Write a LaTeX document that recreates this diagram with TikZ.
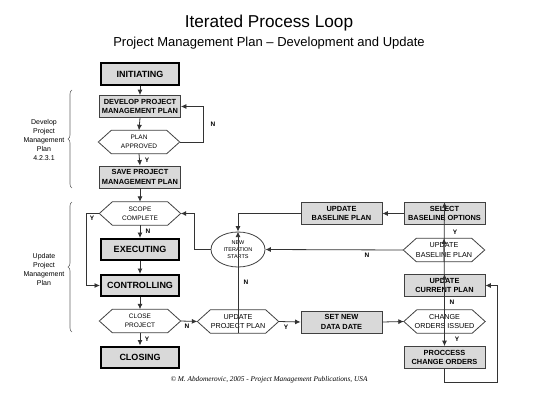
\documentclass[tikz,border=0pt]{standalone}
\usepackage{fontspec}
\setmainfont{Liberation Sans}
\newfontfamily\creditfont{Liberation Serif}
\usetikzlibrary{shapes.geometric,arrows.meta,decorations.pathreplacing}

\tikzset{
  box/.style={draw=black!75, fill=black!15, line width=0.8pt, minimum width=81pt, minimum height=22pt,
    inner sep=0pt, align=center, font=\fontsize{7.4}{9.5}\selectfont\bfseries},
  phase/.style={box, draw=black, line width=2pt, minimum width=78pt, minimum height=21pt,
    font=\fontsize{9}{10}\selectfont\bfseries},
  hex/.style={minimum width=81pt, minimum height=23pt, inner sep=0pt, align=center,
    font=\fontsize{6.5}{9}\selectfont},
  hexr/.style={hex, font=\fontsize{7.2}{9.5}\selectfont},
  hexline/.style={draw=black!75, line width=0.8pt},
  arr/.style={draw=black!80, line width=0.8pt, -{Latex[length=5.5pt,width=5pt]}},
  lbl/.style={font=\fontsize{6.5}{7}\selectfont\bfseries, inner sep=0pt},
}

\begin{document}
\begin{tikzpicture}[x=1pt, y=-1pt]
  \useasboundingbox (0,0) rectangle (538,404);

  % 标题
  \node (title) at (269,23) {\fontsize{17.2}{20}\selectfont Iterated Process Loop};
  \node (subtitle) at (269,43) {\fontsize{13}{15}\selectfont Project Management Plan -- Development and Update};

  % 左列
  \node[phase] (init) at (140,74) {INITIATING};
  \node[box] (develop) at (140,106.5) {DEVELOP PROJECT\\MANAGEMENT PLAN};
  \node[hex] (approved) at (139,142) {PLAN\\APPROVED};
  \node[box] (save) at (140,177) {SAVE PROJECT\\MANAGEMENT PLAN};
  \node[hex] (scope) at (140,213.5) {SCOPE\\COMPLETE};
  \node[phase] (exec) at (140,249.5) {EXECUTING};
  \node[phase] (control) at (140,285.5) {CONTROLLING};
  \node[hex] (close) at (140,321) {CLOSE\\PROJECT};
  \node[phase] (closing) at (140,357) {CLOSING};

  % 右侧
  \node[box] (ubox) at (341.5,213.5) {UPDATE\\BASELINE PLAN};
  \node[box] (select) at (444.5,213.5) {SELECT\\BASELINE OPTIONS};
  \node[ellipse, draw=black!75, line width=0.8pt, minimum width=54pt, minimum height=35pt, inner sep=0pt,
    align=center, font=\fontsize{5.5}{7}\selectfont] (iter) at (238,249.5) {NEW\\ITERATION\\STARTS};
  \node[hexr] (ubp) at (444,250) {UPDATE\\BASELINE PLAN};
  \node[box] (current) at (444.5,285.5) {UPDATE\\CURRENT PLAN};
  \node[hexr] (upp) at (238,321.5) {UPDATE\\PROJECT PLAN};
  \node[box] (newdate) at (341.5,322) {SET NEW\\DATA DATE};
  \node[hexr] (change) at (444.5,321.5) {CHANGE\\ORDERS ISSUED};
  \node[box] (process) at (444.5,357.5) {PROCCESS\\CHANGE ORDERS};

  % 六边形
  \foreach \n in {approved,scope,close,ubp,upp,change}
    \draw[hexline] (\n.west) -- ([xshift=13pt]\n.north west) -- ([xshift=-13pt]\n.north east)
      -- (\n.east) -- ([xshift=-13pt]\n.south east) -- ([xshift=13pt]\n.south west) -- cycle;

  % 箭头
  \foreach \a/\b in {init/develop, develop/approved, approved/save, save/scope, scope/exec,
                     exec/control, control/close, close/closing, upp/iter, change/current,
                     change/process, current/ubp, ubp/select}
    \draw[arr] (\a.south) -- (\b.north);
  \foreach \a/\b in {close/upp, upp/newdate, newdate/change}
    \draw[arr] (\a.east) -- (\b.west);
  \draw[arr] (approved.east) -- ++(24,0) |- (develop.east);
  \draw[arr] (scope.west) -- ++(-13,0) |- (control.west);
  \draw[arr] (select.west) -- (ubox.east);
  \draw[arr] (ubox.west) -| (iter.north);
  \draw[arr] (ubp.west) -- (iter.east);
  \draw[arr] (iter.west) -- ++(-16,0) |- (scope.east);
  \draw[arr] (process.south) -- ++(0,13) -- ++(53,0) |- (current.east);

  % Y / N
  \foreach \t/\x/\y [count=\k] in {Y/147/160, N/213/124, N/148/231, Y/92/218, Y/147/339, N/187/326,
                                   N/246/282, Y/286/327, N/452/302, Y/457/339, Y/455/232, N/367/255}
    \node[lbl] (lbl\k) at (\x,\y) {\t};

  % 括号
  \draw[decorate, decoration={brace, amplitude=4pt}, black!60, line width=0.6pt] (72,188) -- (72,90);
  \draw[decorate, decoration={brace, amplitude=4pt}, black!60, line width=0.6pt] (72,332) -- (72,202);
  \node[align=center, font=\fontsize{7}{9}\selectfont] (devtxt) at (44,140) {Develop\\Project\\Management\\Plan\\4.2.3.1};
  \node[align=center, font=\fontsize{7}{9}\selectfont] (updtxt) at (44,269) {Update\\Project\\Management\\Plan};

  \node[font=\creditfont\itshape\fontsize{7.3}{8}\selectfont] (credit) at (269,380)
    {\textcopyright{} M. Abdomerovic, 2005 - Project Management Publications, USA};
\end{tikzpicture}
\end{document}
